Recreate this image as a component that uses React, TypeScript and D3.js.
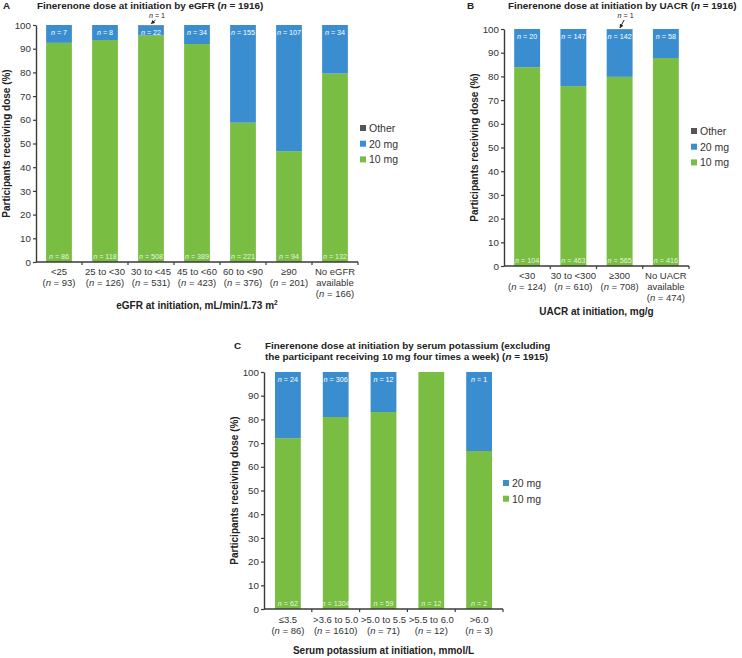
import React, { useRef, useEffect } from 'react';
import * as d3 from 'd3';

const GREEN = '#79bd43';
const BLUE = '#3a8ecf';
const GREY = '#555555';
const FONT = '"Liberation Sans", Arial, sans-serif';

// A: by eGFR
const egfrCategories = [['<25'], ['25 to <30'], ['30 to <45'], ['45 to <60'], ['60 to <90'], ['≥90'], ['No eGFR', 'available']];
const egfrTotals = [93, 126, 531, 423, 376, 201, 166];
const egfr10 = [86, 118, 508, 389, 221, 94, 132];
const egfr20 = [7, 8, 22, 34, 155, 107, 34];
const egfrOther = [0, 0, 1, 0, 0, 0, 0];

// B: by UACR
const uacrCategories = [['<30'], ['30 to <300'], ['≥300'], ['No UACR', 'available']];
const uacrTotals = [124, 610, 708, 474];
const uacr10 = [104, 463, 565, 416];
const uacr20 = [20, 147, 142, 58];
const uacrOther = [0, 0, 1, 0];

// C: by serum potassium
const kCategories = [['≤3.5'], ['>3.6 to 5.0'], ['>5.0 to 5.5'], ['>5.5 to 6.0'], ['>6.0']];
const kTotals = [86, 1610, 71, 12, 3];
const k10 = [62, 1304, 59, 12, 2];
const k20 = [24, 306, 12, 0, 1];

const yTicks = [0, 10, 20, 30, 40, 50, 60, 70, 80, 90, 100];

type Panel = {
  left: number; right: number; top: number; bottom: number;
  cats: string[][]; totals: number[]; d10: number[]; d20: number[]; other?: number[];
  pad: number;
  letter: string; letterX: number; titleX: number; titleLines: string[]; titleY: number;
  yTitleX: number;
  tickY: number; lineGap: number; xTitle: string; xTitleY: number;
  legendX: number; legendY: number;
};

// writes a string into a text node, setting every "n" before " = " in italics
function rich(text: any, s: string) {
  s.split(/(\bn(?= = ))/).forEach(p => {
    if (!p) return;
    const t = text.append('tspan').text(p);
    if (p === 'n') t.style('font-style', 'italic');
  });
}

function drawPanel(svg: any, p: Panel) {
  const g = svg.append('g').style('font-family', FONT);
  const idx = p.cats.map((_, i) => i);
  const x = d3.scaleBand<number>().domain(idx).range([p.left, p.right])
    .paddingInner(p.pad).paddingOuter(p.pad / 2);
  const y = d3.scaleLinear().domain([0, 100]).range([p.bottom, p.top]);

  const keys = p.other ? ['10 mg', '20 mg', 'Other'] : ['10 mg', '20 mg'];
  const colors: Record<string, string> = { '10 mg': GREEN, '20 mg': BLUE, Other: GREY };
  const rows = idx.map(i => ({
    i,
    '10 mg': (p.d10[i] / p.totals[i]) * 100,
    '20 mg': (p.d20[i] / p.totals[i]) * 100,
    Other: p.other ? (p.other[i] / p.totals[i]) * 100 : 0,
  }));
  const stack = d3.stack<any>().keys(keys)(rows);

  stack.forEach(layer => {
    g.append('g').selectAll('rect').data(layer).enter().append('rect')
      .attr('x', (d: any) => x(d.data.i))
      .attr('width', x.bandwidth())
      .attr('y', (d: any) => y(d[1]))
      .attr('height', (d: any) => Math.max(0, y(d[0]) - y(d[1])))
      .attr('fill', colors[layer.key]);
  });

  // n labels inside bars
  idx.forEach(i => {
    const cx = x(i)! + x.bandwidth() / 2;
    if (p.d20[i] > 0) {
      rich(g.append('text').attr('x', cx).attr('y', p.top + 9.5)
        .attr('text-anchor', 'middle').style('font-size', '7.2px').attr('fill', '#fff'), `n = ${p.d20[i]}`);
    }
    rich(g.append('text').attr('x', cx).attr('y', p.bottom - 3.5)
      .attr('text-anchor', 'middle').style('font-size', '7.2px').attr('fill', 'rgba(255,255,255,0.85)'), `n = ${p.d10[i]}`);
    if (p.other && p.other[i] > 0) {
      rich(g.append('text').attr('x', cx + 6).attr('y', 17.5)
        .attr('text-anchor', 'middle').style('font-size', '7.2px').attr('fill', '#222'), `n = ${p.other[i]}`);
      g.append('line').attr('x1', cx + 4.5).attr('y1', 20).attr('x2', cx + 0.5).attr('y2', p.top - 1.5)
        .attr('stroke', '#222').attr('stroke-width', 1).attr('marker-end', 'url(#arrowhead)');
    }
  });

  // y axis
  const yAxis = g.append('g').attr('transform', `translate(${p.left},0)`)
    .call(d3.axisLeft(y).tickValues(yTicks).tickSize(3).tickPadding(2).tickSizeOuter(0));
  yAxis.select('.domain').attr('stroke', '#3a3a3a').attr('stroke-width', 1.4);
  yAxis.selectAll('line').attr('stroke', '#3a3a3a').attr('stroke-width', 1.2);
  yAxis.selectAll('text').style('font-size', '9.8px').style('font-family', FONT).attr('fill', '#333');

  // x axis: baseline with ticks between categories
  g.append('line').attr('x1', p.left).attr('x2', p.right).attr('y1', p.bottom).attr('y2', p.bottom)
    .attr('stroke', '#3a3a3a').attr('stroke-width', 1.4);
  idx.forEach(i => {
    const bx = x(i)! + x.bandwidth() + (x.step() * x.paddingInner()) / 2;
    g.append('line').attr('x1', bx).attr('x2', bx).attr('y1', p.bottom).attr('y2', p.bottom + 3)
      .attr('stroke', '#3a3a3a').attr('stroke-width', 1.2);
  });

  // category labels
  idx.forEach(i => {
    const cx = x(i)! + x.bandwidth() / 2;
    const lines = [...p.cats[i], `(n = ${p.totals[i]})`];
    lines.forEach((ln, k) => {
      rich(g.append('text').attr('x', cx).attr('y', p.tickY + k * p.lineGap)
        .attr('text-anchor', 'middle').style('font-size', '9.5px').attr('fill', '#333'), ln);
    });
  });

  // axis titles
  g.append('text').attr('x', (p.left + p.right) / 2).attr('y', p.xTitleY)
    .attr('text-anchor', 'middle').style('font-size', '10px').style('font-weight', 'bold').attr('fill', '#222')
    .call((t: any) => {
      if (p.xTitle.endsWith('m2')) {
        t.append('tspan').text(p.xTitle.slice(0, -1));
        t.append('tspan').text('2').attr('dy', -4).style('font-size', '6.5px');
      } else {
        t.text(p.xTitle);
      }
    });
  rich(g.append('text')
    .attr('transform', `translate(${p.yTitleX},${(p.top + p.bottom) / 2}) rotate(-90)`)
    .attr('text-anchor', 'middle').style('font-size', '10px').style('font-weight', 'bold').attr('fill', '#222'),
    'Participants receiving dose (%)');

  // panel letter and title
  g.append('text').attr('x', p.letterX).attr('y', p.titleY).style('font-size', '9.9px')
    .style('font-weight', 'bold').attr('fill', '#222').text(p.letter);
  p.titleLines.forEach((ln, k) => {
    rich(g.append('text').attr('x', p.titleX).attr('y', p.titleY + k * 11).style('font-size', '9.9px')
      .style('font-weight', 'bold').attr('fill', '#222'), ln);
  });

  // legend, top entry first
  const legendKeys = [...keys].reverse();
  legendKeys.forEach((k, j) => {
    const ly = p.legendY + j * 15.7;
    g.append('rect').attr('x', p.legendX).attr('y', ly - 3).attr('width', 6).attr('height', 6).attr('fill', colors[k]);
    g.append('text').attr('x', p.legendX + 9).attr('y', ly + 3.8).style('font-size', '10.5px')
      .attr('fill', '#333').text(k);
  });
}

export default function App() {
  const ref = useRef<SVGSVGElement>(null);

  useEffect(() => {
    const svg = d3.select(ref.current);
    svg.selectAll('*').remove();

    svg.append('defs').append('marker').attr('id', 'arrowhead')
      .attr('viewBox', '0 0 10 10').attr('refX', 8).attr('refY', 5)
      .attr('markerWidth', 4).attr('markerHeight', 4).attr('orient', 'auto')
      .append('path').attr('d', 'M0,0L10,5L0,10z').attr('fill', '#222');

    drawPanel(svg, {
      left: 36, right: 358, top: 25, bottom: 262,
      cats: egfrCategories, totals: egfrTotals, d10: egfr10, d20: egfr20, other: egfrOther,
      pad: 0.44,
      letter: 'A', letterX: 3, titleX: 37, titleLines: ['Finerenone dose at initiation by eGFR (n = 1916)'], titleY: 9,
      yTitleX: 9.5,
      tickY: 275, lineGap: 11, xTitle: 'eGFR at initiation, mL/min/1.73 m2', xTitleY: 308.5,
      legendX: 360, legendY: 128,
    });

    drawPanel(svg, {
      left: 504, right: 689, top: 29, bottom: 266,
      cats: uacrCategories, totals: uacrTotals, d10: uacr10, d20: uacr20, other: uacrOther,
      pad: 0.44,
      letter: 'B', letterX: 467, titleX: 508, titleLines: ['Finerenone dose at initiation by UACR (n = 1916)'], titleY: 9,
      yTitleX: 478,
      tickY: 278.5, lineGap: 11.4, xTitle: 'UACR at initiation, mg/g', xTitleY: 314.5,
      legendX: 691, legendY: 131,
    });

    drawPanel(svg, {
      left: 264, right: 503, top: 372, bottom: 609,
      cats: kCategories, totals: kTotals, d10: k10, d20: k20,
      pad: 0.46,
      letter: 'C', letterX: 234, titleX: 265,
      titleLines: [
        'Finerenone dose at initiation by serum potassium (excluding',
        'the participant receiving 10 mg four times a week) (n = 1915)',
      ],
      titleY: 348.5,
      yTitleX: 238,
      tickY: 622.5, lineGap: 11, xTitle: 'Serum potassium at initiation, mmol/L', xTitleY: 653.5,
      legendX: 503, legendY: 483,
    });
  }, []);

  return (
    <svg ref={ref} width={742} height={658}
      style={{ position: 'absolute', left: 0, top: 0, background: '#fff' }} />
  );
}
